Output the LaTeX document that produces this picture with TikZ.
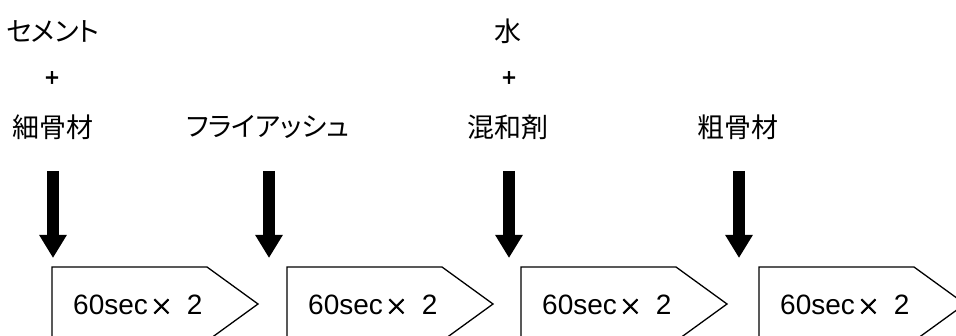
\documentclass[tikz,border=0pt]{standalone}
\usepackage{fontspec}
\setmainfont{Liberation Sans}
\newfontfamily\jp[RawFeature=+palt]{Noto Sans CJK JP}
\newfontfamily\jpb[FakeBold=2.5]{Noto Sans CJK JP}
\usetikzlibrary{arrows.meta}
\newcommand{\mulsign}{{\jpb\fontsize{23}{24}\selectfont ×}}
\begin{document}
\begin{tikzpicture}[x=1pt,y=-1pt,
  lbl/.style={font=\jp\fontsize{27}{30}\selectfont, inner sep=0pt},
  plus/.style={font=\jpb\fontsize{24}{26}\selectfont, inner sep=0pt},
  feed/.style={line width=12.5pt, -{Triangle[width=26pt,length=23pt]}},
  boxline/.style={draw=black, line width=1.3pt, line join=miter},
  boxtxt/.style={font=\fontsize{28}{30}\selectfont, inner sep=0pt, anchor=base west}]
\useasboundingbox (0,0) rectangle (956,336);
\clip (0,0) rectangle (956,336);
% labels
\node[lbl] (cem) at (53,31) {セメント};
\node[plus] (p1) at (52,79) {+};
\node[lbl] (fine) at (53,127) {細骨材};
\node[lbl] (fly) at (268,127) {フライアッシュ};
\node[lbl] (wat) at (508,31) {水};
\node[plus] (p2) at (509,79) {+};
\node[lbl] (adm) at (508,127) {混和剤};
\node[lbl] (coarse) at (738,127) {粗骨材};
% arrows
\foreach \i/\x in {1/53,2/269,3/509,4/739}{
  \coordinate (s\i) at (\x,171);
  \coordinate (t\i) at (\x,258);
  \draw[feed] (s\i) -- (t\i);
}
% boxes
\foreach \i/\L in {1/52,2/287,3/521,4/759}{
  \draw[boxline] (\L,341) -- (\L,267) -- (\L+155,267) -- (\L+206,304) -- (\L+155,341) -- cycle;
  \node[boxtxt] (b\i) at (\L+21,315) {60sec\hspace{2pt}\mulsign\hspace{14pt}2};
}
\end{tikzpicture}
\end{document}
